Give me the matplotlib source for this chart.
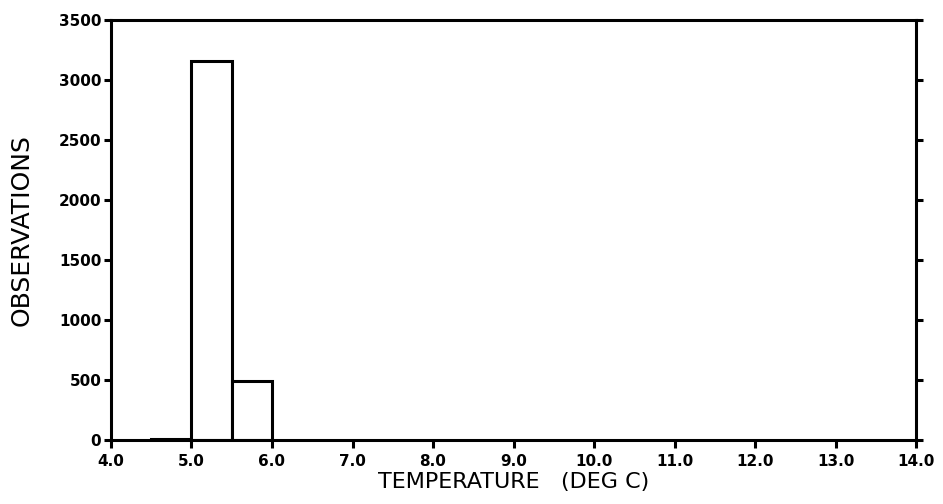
import numpy as np
import matplotlib
matplotlib.use("Agg")
import matplotlib.pyplot as plt

# bin edges (deg C) and observation counts per 0.5 deg bin
bin_left = [4.5, 5.0, 5.5]
counts = [12, 3160, 495]
bin_width = 0.5

x_ticks = [4.0, 5.0, 6.0, 7.0, 8.0, 9.0, 10.0, 11.0, 12.0, 13.0, 14.0]
y_ticks = [0, 500, 1000, 1500, 2000, 2500, 3000, 3500]

fig = plt.figure(figsize=(9.43, 5.04), dpi=100)
ax = fig.add_axes([0.1177, 0.127, 0.8537, 0.8333])

ax.bar(bin_left, counts, width=bin_width, align="edge",
       facecolor="white", edgecolor="black", linewidth=2.2, zorder=2)

ax.set_xlim(4.0, 14.0)
ax.set_ylim(0, 3500)
ax.set_xticks(x_ticks)
ax.set_xticklabels([f"{v:.1f}" for v in x_ticks], fontsize=11, fontweight="bold")
ax.set_yticks(y_ticks)
ax.set_yticklabels([str(v) for v in y_ticks], fontsize=11, fontweight="bold")

ax.tick_params(axis="x", direction="out", length=6, width=2.2, pad=4,
               bottom=True, top=False)
ax.tick_params(axis="y", direction="out", length=5, width=2.2, pad=2,
               left=True, right=True)

for sp in ax.spines.values():
    sp.set_linewidth(2.2)

ax.set_xlabel("TEMPERATURE   (DEG C)", fontsize=16, labelpad=2)
ax.set_ylabel("OBSERVATIONS", fontsize=18, labelpad=18)

fig.savefig("out.png", dpi=100, facecolor="white")
